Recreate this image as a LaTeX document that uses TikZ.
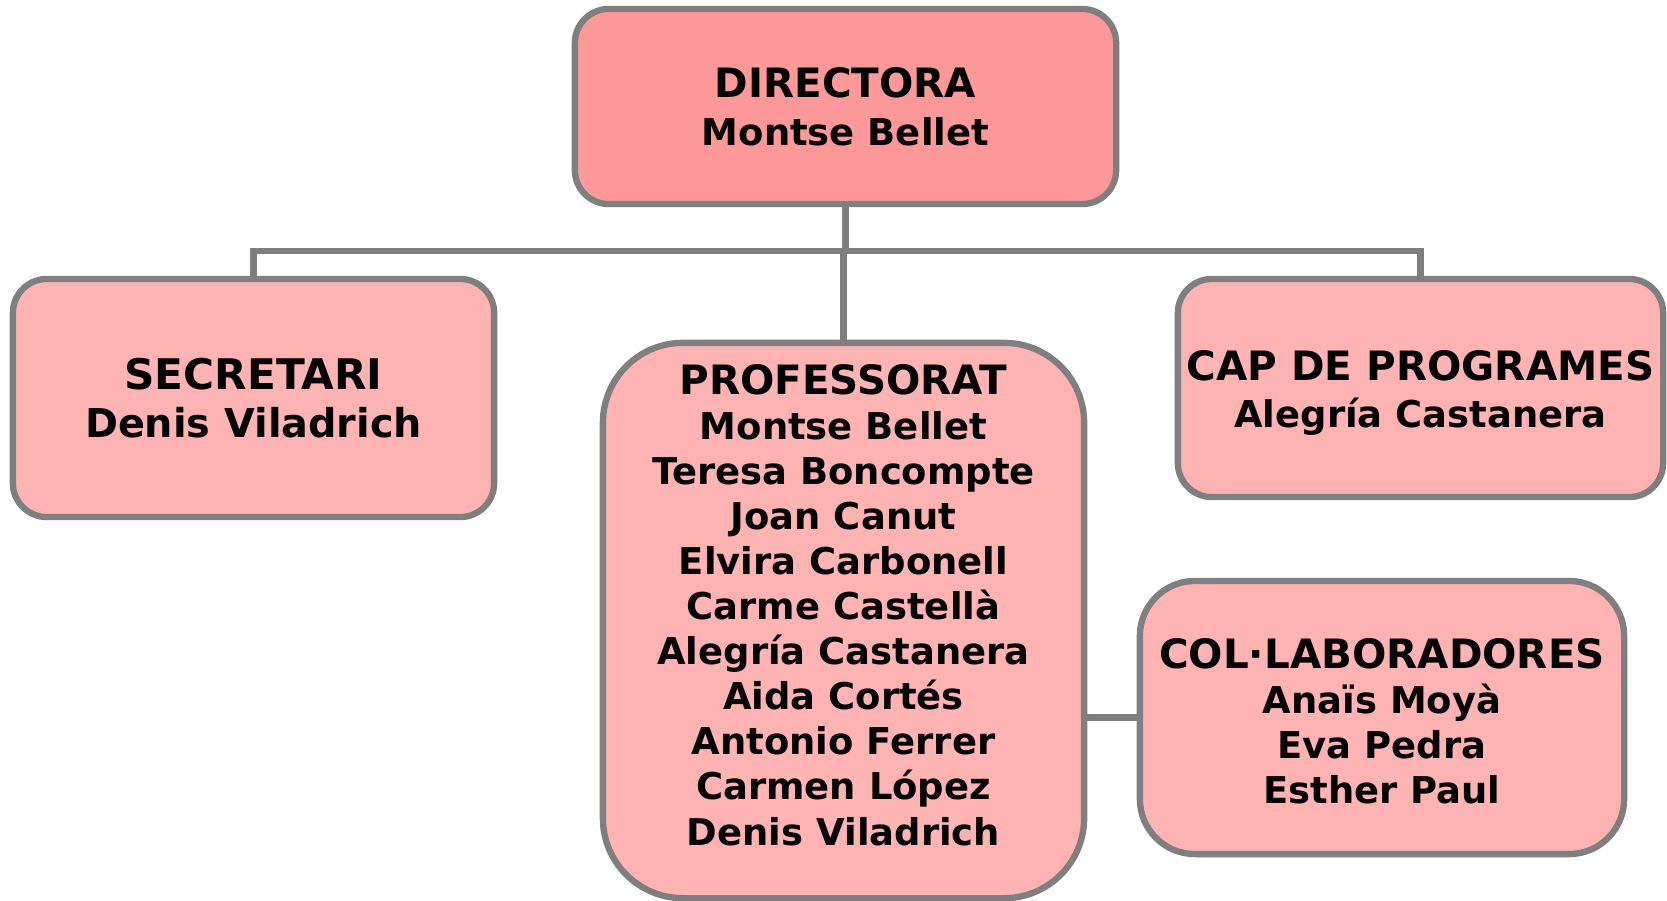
\documentclass[tikz,border=0pt]{standalone}
\usepackage{fontspec}
\setmainfont{DejaVu Sans}
\begin{document}
\begin{tikzpicture}[x=0.01cm, y=-0.01cm]
\newcommand{\boxfill}{rosa}
\newcommand{\topfill}{salmo}
\newcommand{\orgfont}{\fontsize{10.5}{13.6}\selectfont\bfseries}
\newcommand{\llistafont}{\fontsize{10.5}{12.8}\selectfont\bfseries}
\newcommand{\titol}[1]{{\fontsize{11.5}{13.6}\selectfont #1}}
\definecolor{rosa}{HTML}{FFB3B3}
\definecolor{salmo}{HTML}{FF9999}
\definecolor{vora}{HTML}{7F7F7F}

\tikzset{every path/.style={line width=1.8pt},
  unitat/.style={draw=vora, fill=\boxfill, rounded corners=0.34cm, align=center,
    inner sep=0pt, font=\orgfont},
  branca/.style={draw=vora, line width=1.8pt}}
\useasboundingbox (0,0) rectangle (1667,900);

    \node[unitat, fill=\topfill, minimum width=5.41cm, minimum height=1.95cm] (dir) at (845.5,106.5)
      {\titol{DIRECTORA}\\Montse Bellet};
    \node[unitat, font=\fontsize{11.3}{13.6}\selectfont\bfseries, minimum width=4.81cm, minimum height=2.38cm] (sec) at (253.5,398)
      {{\fontsize{12}{13.6}\selectfont SECRETARI}\\Denis Viladrich};
    \node[unitat, minimum width=4.85cm] (cap) at (1420.5,388)
      {\parbox[c][2.18cm][c]{4.8cm}{\centering\vspace*{0.1cm}
       \titol{CAP DE PROGRAMES}\\Alegría Castanera}};
    \node[unitat, font=\llistafont, rounded corners=0.55cm, minimum width=4.84cm] (col) at (1382,717.5)
      {\parbox[c][2.73cm][c]{4.8cm}{\centering\vspace*{0.07cm}
       \titol{COL·LABORADORES}\\Anaïs Moyà\\Eva Pedra\\Esther Paul}};
    \node[unitat, font=\llistafont, rounded corners=0.8cm, minimum width=4.81cm] (prof) at (843.5,620.5)
      {\parbox[c][5.55cm][t]{4.6cm}{\centering\vspace*{0.22cm}
       \titol{PROFESSORAT}\\Montse Bellet\\Teresa Boncompte\\Joan Canut\\Elvira Carbonell\\
       Carme Castellà\\Alegría Castanera\\Aida Cortés\\Antonio Ferrer\\Carmen López\\Denis Viladrich}};

    % linies de dependencia
    \coordinate (bus) at (845,251);
    \draw[branca] (dir.south) -- (dir.south |- bus);
    \draw[branca] (sec.north) |- (bus) -| (cap.north);
    \draw[branca] (prof.north) -- (prof.north |- bus);
    \draw[branca] (col.west) -- (col.west -| prof.east);
\end{tikzpicture}
\end{document}
